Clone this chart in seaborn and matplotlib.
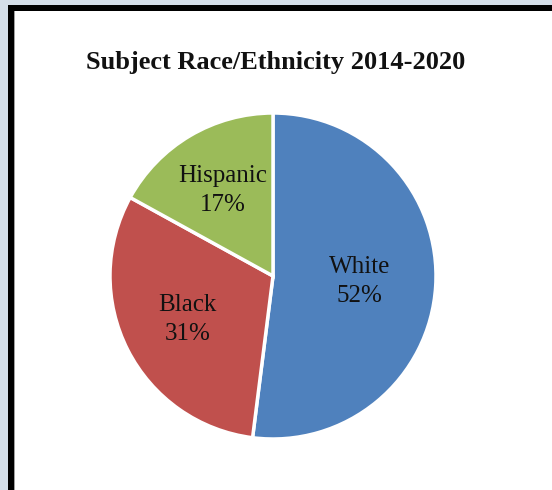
import matplotlib
matplotlib.use("Agg")
import matplotlib.pyplot as plt
import seaborn as sns
import numpy as np
from matplotlib.patches import Rectangle

sns.set_theme(style="white")
plt.rcParams['font.family'] = ['Liberation Serif', 'DejaVu Serif']

categories = ["White", "Black", "Hispanic"]
values = [52, 31, 17]
colors = ["#4f81bd", "#c0504d", "#9bbb59"]
title = "Subject Race/Ethnicity 2014-2020"
label_radius = [0.53, 0.59, 0.61]

fig = plt.figure(figsize=(5.52, 4.9), dpi=100)
fig.patch.set_facecolor("#d4dee9")
# black frame + white chart area
fig.patches.append(Rectangle((8/552, 0), 1, 1 - 5/490, transform=fig.transFigure,
                             facecolor="black", edgecolor="none", zorder=-3))
fig.patches.append(Rectangle((14/552, 0), 1, 1 - 11/490, transform=fig.transFigure,
                             facecolor="#a0a0a0", edgecolor="none", zorder=-2))
fig.patches.append(Rectangle((15/552, 0), 1, 1 - 11/490, transform=fig.transFigure,
                             facecolor="white", edgecolor="none", zorder=-1))

ax = fig.add_axes([110/552, 51/490, 326/552, 326/490])
ax.set_zorder(5)
ax.set_facecolor("none")
labels = [f"{c}\n{v}%" for c, v in zip(categories, values)]
wedges, texts = ax.pie(values, colors=colors, startangle=90, counterclock=False,
                       labels=labels, labeldistance=0.6,
                       wedgeprops=dict(edgecolor="white", linewidth=2.5),
                       textprops=dict(fontsize=18, color="#111111", ha="center",
                                      va="center", linespacing=1.4))
for w, t, r in zip(wedges, texts, label_radius):
    mid = np.deg2rad((w.theta1 + w.theta2) / 2)
    t.set_position((r * np.cos(mid), r * np.sin(mid)))
    t.set_horizontalalignment("center")
    t.set_multialignment("center")
ax.set_xlim(-1, 1)
ax.set_ylim(-1, 1)
ax.set_aspect("equal")

fig.text(276/552, 1 - 62/490, title, ha="center", va="center",
         fontsize=19, fontweight="bold", color="#111111")

fig.savefig("out.png", dpi=100)
